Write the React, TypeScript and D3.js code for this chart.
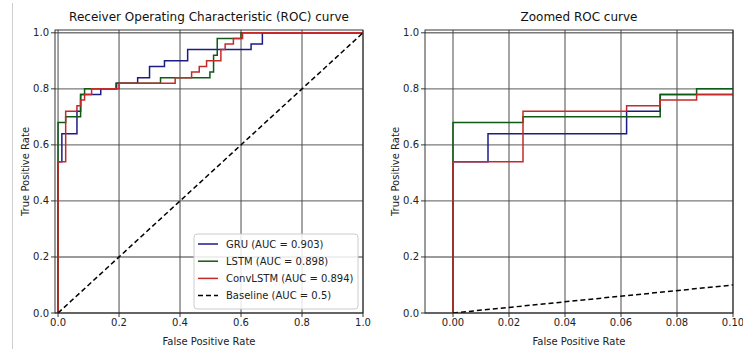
import React from "react";
import * as d3 from "d3";

// ---------- data ----------
const gruFpr = [0, 0, 0.0125, 0.0125, 0.062, 0.062, 0.074, 0.074, 0.14, 0.14, 0.192, 0.192, 0.261, 0.261, 0.30, 0.30, 0.349, 0.349, 0.425, 0.425, 0.633, 0.633, 0.67, 0.67, 1.0];
const gruTpr = [0, 0.54, 0.54, 0.64, 0.64, 0.72, 0.72, 0.78, 0.78, 0.80, 0.80, 0.82, 0.82, 0.84, 0.84, 0.88, 0.88, 0.90, 0.90, 0.94, 0.94, 0.96, 0.96, 1.0, 1.0];

const lstmFpr = [0, 0, 0.025, 0.025, 0.074, 0.074, 0.087, 0.087, 0.19, 0.19, 0.336, 0.336, 0.498, 0.498, 0.51, 0.51, 0.522, 0.522, 0.6, 0.6, 1.0];
const lstmTpr = [0, 0.68, 0.68, 0.70, 0.70, 0.78, 0.78, 0.80, 0.80, 0.82, 0.82, 0.84, 0.84, 0.86, 0.86, 0.92, 0.92, 0.98, 0.98, 1.0, 1.0];

const convFpr = [0, 0, 0.025, 0.025, 0.062, 0.062, 0.074, 0.074, 0.087, 0.087, 0.11, 0.11, 0.2, 0.2, 0.384, 0.384, 0.438, 0.438, 0.463, 0.463, 0.487, 0.487, 0.534, 0.534, 0.548, 0.548, 0.575, 0.575, 0.605, 0.605, 1.0];
const convTpr = [0, 0.54, 0.54, 0.72, 0.72, 0.74, 0.74, 0.76, 0.76, 0.78, 0.78, 0.80, 0.80, 0.82, 0.82, 0.84, 0.84, 0.86, 0.86, 0.88, 0.88, 0.90, 0.90, 0.94, 0.94, 0.96, 0.96, 0.98, 0.98, 1.0, 1.0];

const baseFpr = [0, 1];
const baseTpr = [0, 1];

const seriesNames = ["GRU (AUC = 0.903)", "LSTM (AUC = 0.898)", "ConvLSTM (AUC = 0.894)", "Baseline (AUC = 0.5)"];
const seriesColors = ["#1c1c86", "#0f5a14", "#c42a2a", "#000000"];

const leftXTicks = [0, 0.2, 0.4, 0.6, 0.8, 1.0];
const rightXTicks = [0, 0.02, 0.04, 0.06, 0.08, 0.1];
const yTicks = [0, 0.2, 0.4, 0.6, 0.8, 1.0];

const titles = ["Receiver Operating Characteristic (ROC) curve", "Zoomed ROC curve"];

const FONT = "DejaVu Sans, sans-serif";

type PanelProps = {
  left: number;
  right: number;
  top: number;
  bottom: number;
  xDomain: [number, number];
  xTicks: number[];
  xFmt: (v: number) => string;
  title: string;
  legend: boolean;
  clipId: string;
};

function Panel(p: PanelProps) {
  const x = d3.scaleLinear().domain(p.xDomain).range([p.left, p.right]);
  const y = d3.scaleLinear().domain([0, 1.01]).range([p.bottom, p.top]);
  const series = [
    { fpr: gruFpr, tpr: gruTpr },
    { fpr: lstmFpr, tpr: lstmTpr },
    { fpr: convFpr, tpr: convTpr },
    { fpr: baseFpr, tpr: baseTpr },
  ];
  const line = d3
    .line<[number, number]>()
    .x((d) => x(d[0]))
    .y((d) => y(d[1]));
  const cx = (p.left + p.right) / 2;
  const cy = (p.top + p.bottom) / 2;
  const lx = p.left + 139;
  const ly = p.bottom - 79;
  return (
    <g>
      <defs>
        <clipPath id={p.clipId}>
          <rect x={p.left} y={p.top} width={p.right - p.left} height={p.bottom - p.top} />
        </clipPath>
      </defs>
      {/* grid */}
      {yTicks.map((t) => (
        <line key={"hy" + t} x1={p.left} x2={p.right} y1={y(t)} y2={y(t)} stroke="#7a7a7a" strokeWidth={1.4} />
      ))}
      {p.xTicks.map((t) => (
        <line key={"vx" + t} x1={x(t)} x2={x(t)} y1={p.top} y2={p.bottom} stroke="#4a4a4a" strokeWidth={1} />
      ))}
      {/* curves */}
      <g clipPath={`url(#${p.clipId})`}>
        {series.map((s, i) => (
          <path
            key={i}
            d={line(s.fpr.map((f, j) => [f, s.tpr[j]] as [number, number])) || ""}
            fill="none"
            stroke={seriesColors[i]}
            strokeWidth={1.5}
            strokeDasharray={i === 3 ? "5,3" : undefined}
          />
        ))}
      </g>
      {/* spines */}
      <rect x={p.left} y={p.top} width={p.right - p.left} height={p.bottom - p.top} fill="none" stroke="#222" strokeWidth={0.9} />
      {/* ticks */}
      {yTicks.map((t) => (
        <g key={"yt" + t}>
          <line x1={p.left - 4} x2={p.left} y1={y(t)} y2={y(t)} stroke="#222" strokeWidth={0.9} />
          <text x={p.left - 6} y={y(t)} dy="0.35em" textAnchor="end" fontSize={10} fontFamily={FONT} fill="#222">
            {t.toFixed(1)}
          </text>
        </g>
      ))}
      {p.xTicks.map((t) => (
        <g key={"xt" + t}>
          <line x1={x(t)} x2={x(t)} y1={p.bottom} y2={p.bottom + 4} stroke="#222" strokeWidth={0.9} />
          <text x={x(t)} y={p.bottom + 13} textAnchor="middle" fontSize={10} fontFamily={FONT} fill="#222">
            {p.xFmt(t)}
          </text>
        </g>
      ))}
      <text x={cx} y={p.bottom + 32} textAnchor="middle" fontSize={10} fontFamily={FONT} fill="#222">
        False Positive Rate
      </text>
      <text
        transform={`translate(${p.left - 26},${cy}) rotate(-90)`}
        textAnchor="middle"
        fontSize={10}
        fontFamily={FONT}
        fill="#222"
      >
        True Positive Rate
      </text>
      <text x={cx} y={p.top - 9} textAnchor="middle" fontSize={12} fontFamily={FONT} fill="#111">
        {p.title}
      </text>
      {p.legend && (
        <g>
          <rect x={lx} y={ly} width={164} height={75} rx={3} fill="#ffffff" fillOpacity={0.85} stroke="#cccccc" strokeWidth={1} />
          {seriesNames.map((n, i) => (
            <g key={n}>
              <line
                x1={lx + 4}
                x2={lx + 24}
                y1={ly + 10 + i * 17.2}
                y2={ly + 10 + i * 17.2}
                stroke={seriesColors[i]}
                strokeWidth={1.5}
                strokeDasharray={i === 3 ? "5,3" : undefined}
              />
              <text x={lx + 32} y={ly + 10 + i * 17.2} dy="0.35em" fontSize={10} fontFamily={FONT} fill="#222">
                {n}
              </text>
            </g>
          ))}
        </g>
      )}
    </g>
  );
}

export default function App() {
  return (
    <svg width={743} height={349} style={{ position: "absolute", left: 0, top: 0, background: "#fff" }}>
      <rect x={0} y={0} width={743} height={349} fill="#fff" />
      <line x1={12.5} x2={12.5} y1={3} y2={349} stroke="#cfcfcf" strokeWidth={1} />
      <Panel
        left={55}
        right={363}
        top={30}
        bottom={313}
        xDomain={[-0.01, 1.0]}
        xTicks={leftXTicks}
        xFmt={(v) => v.toFixed(1)}
        title={titles[0]}
        legend={true}
        clipId="clipL"
      />
      <Panel
        left={425}
        right={733}
        top={30}
        bottom={313}
        xDomain={[-0.01, 0.1]}
        xTicks={rightXTicks}
        xFmt={(v) => v.toFixed(2)}
        title={titles[1]}
        legend={false}
        clipId="clipR"
      />
    </svg>
  );
}
